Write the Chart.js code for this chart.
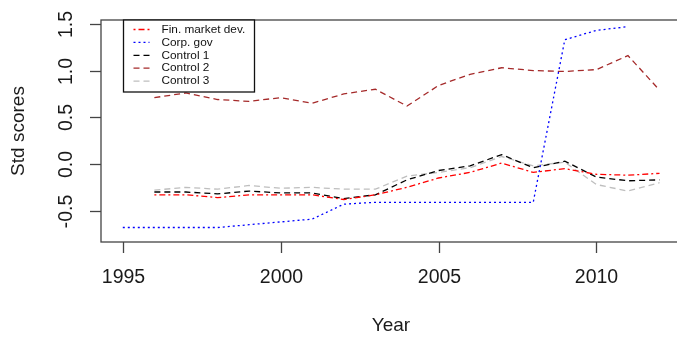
<!DOCTYPE html>
<html>
<head>
<meta charset="utf-8">
<script src="https://cdn.jsdelivr.net/npm/chart.js@4/dist/chart.umd.min.js"></script>
<style>
  html, body { margin: 0; padding: 0; background: #fff; overflow: hidden; }
  #wrap { width: 677px; height: 343px; overflow: hidden; }
  canvas { display: block; }
</style>
</head>
<body>
<div id="wrap"><canvas id="c" width="690" height="343"></canvas></div>
<script>
// Years on the horizontal axis
const years = [1995, 1996, 1997, 1998, 1999, 2000, 2001, 2002, 2003,
               2004, 2005, 2006, 2007, 2008, 2009, 2010, 2011, 2012];

// Standardised scores per series (null = no observation)
const finMarketDev = [null, -0.33, -0.33, -0.36, -0.33, -0.33, -0.33, -0.38, -0.33,
                      -0.25, -0.15, -0.09, 0.01, -0.09, -0.05, -0.11, -0.12, -0.10];
const corpGov      = [-0.68, -0.68, -0.68, -0.68, -0.65, -0.62, -0.59, -0.43, -0.41,
                      -0.41, -0.41, -0.41, -0.41, -0.41, 1.33, 1.43, 1.47, null];
const control1     = [null, -0.30, -0.30, -0.32, -0.29, -0.31, -0.31, -0.37, -0.33,
                      -0.17, -0.07, -0.02, 0.10, -0.04, 0.03, -0.14, -0.18, -0.17];
const control2     = [null, 0.71, 0.76, 0.69, 0.67, 0.71, 0.65, 0.75, 0.80,
                      0.62, 0.84, 0.96, 1.03, 1.00, 0.99, 1.01, 1.16, 0.79];
const control3     = [null, -0.28, -0.25, -0.27, -0.23, -0.26, -0.25, -0.27, -0.27,
                      -0.13, -0.09, -0.04, 0.08, -0.02, 0.02, -0.22, -0.29, -0.20];

// Axis ticks and labels
const xTicks = [1995, 2000, 2005, 2010];
const yTicks = [-0.5, 0.0, 0.5, 1.0, 1.5];
const yTickLabels = ['-0.5', '0.0', '0.5', '1.0', '1.5'];
const xTitle = 'Year';
const yTitle = 'Std scores';

const FONT = "'Liberation Sans', Arial, sans-serif";

function points(vals) {
  const out = [];
  years.forEach((yr, i) => { if (vals[i] !== null) out.push({ x: yr, y: vals[i] }); });
  return out;
}

const series = [
  { label: 'Fin. market dev.', vals: finMarketDev, color: '#FF0000', dash: [2, 3, 6, 3] },
  { label: 'Corp. gov',        vals: corpGov,      color: '#0000FF', dash: [2, 3] },
  { label: 'Control 1',        vals: control1,     color: '#000000', dash: [6, 4] },
  { label: 'Control 2',        vals: control2,     color: '#A52A2A', dash: [6, 4] },
  { label: 'Control 3',        vals: control3,     color: '#BEBEBE', dash: [6, 4] }
];

// Base-graphics style frame, ticks, titles and legend
const framePlugin = {
  id: 'frame',
  afterDatasetsDraw(chart) {
    const { ctx, chartArea: a, scales } = chart;
    const xs = scales.x, ys = scales.y;
    ctx.save();
    ctx.strokeStyle = '#444';
    ctx.lineWidth = 1.3;
    ctx.setLineDash([]);
    ctx.strokeRect(a.left, a.top, a.right - a.left, a.bottom - a.top);

    ctx.fillStyle = '#1a1a1a';
    ctx.font = '19.5px ' + FONT;
    // x ticks
    ctx.textAlign = 'center';
    ctx.textBaseline = 'middle';
    xTicks.forEach(t => {
      const px = Math.round(xs.getPixelForValue(t)) + 0.5;
      ctx.beginPath(); ctx.moveTo(px, a.bottom); ctx.lineTo(px, a.bottom + 11); ctx.stroke();
      ctx.fillText(String(t), px, 278);
    });
    // y ticks (labels read upwards)
    yTicks.forEach((t, i) => {
      const py = Math.round(ys.getPixelForValue(t)) + 0.5;
      ctx.beginPath(); ctx.moveTo(a.left, py); ctx.lineTo(a.left - 11, py); ctx.stroke();
      ctx.save();
      ctx.translate(67, py);
      ctx.rotate(-Math.PI / 2);
      ctx.fillText(yTickLabels[i], 0, 0);
      ctx.restore();
    });
    // titles
    ctx.font = '19px ' + FONT;
    ctx.fillText(xTitle, (a.left + a.right) / 2, 326);
    ctx.save();
    ctx.translate(19, (a.top + a.bottom) / 2);
    ctx.rotate(-Math.PI / 2);
    ctx.fillText(yTitle, 0, 0);
    ctx.restore();

    // legend
    const lx = Math.round(xs.getPixelForValue(1995)) + 0.5, ly = a.top;
    const lw = 131, lh = 72;
    ctx.fillStyle = '#fff';
    ctx.fillRect(lx, ly, lw, lh);
    ctx.strokeStyle = '#111';
    ctx.lineWidth = 1.3;
    ctx.strokeRect(lx, ly, lw, lh);
    ctx.font = '11.8px ' + FONT;
    ctx.textAlign = 'left';
    chart.data.datasets.forEach((ds, i) => {
      const ry = ly + 9.5 + i * 12.9;
      ctx.strokeStyle = ds.borderColor;
      ctx.lineWidth = 1.3;
      ctx.setLineDash(ds.borderDash);
      ctx.beginPath(); ctx.moveTo(lx + 10, ry); ctx.lineTo(lx + 26, ry); ctx.stroke();
      ctx.setLineDash([]);
      ctx.fillStyle = '#111';
      ctx.fillText(ds.label, lx + 38, ry);
    });
    ctx.restore();
  }
};

new Chart(document.getElementById('c'), {
  type: 'line',
  data: {
    datasets: series.map(s => ({
      label: s.label,
      data: points(s.vals),
      borderColor: s.color,
      borderDash: s.dash,
      borderWidth: 1.3,
      pointRadius: 0,
      fill: false,
      tension: 0
    }))
  },
  options: {
    responsive: false,
    animation: false,
    devicePixelRatio: 1,
    layout: { padding: { left: 101, top: 20, right: 9, bottom: 101 } },
    plugins: { legend: { display: false }, tooltip: { enabled: false } },
    scales: {
      x: { type: 'linear', min: 1994.31, max: 2012.68, display: false },
      y: { type: 'linear', min: -0.835, max: 1.541, display: false }
    }
  },
  plugins: [framePlugin]
});
</script>
</body>
</html>
